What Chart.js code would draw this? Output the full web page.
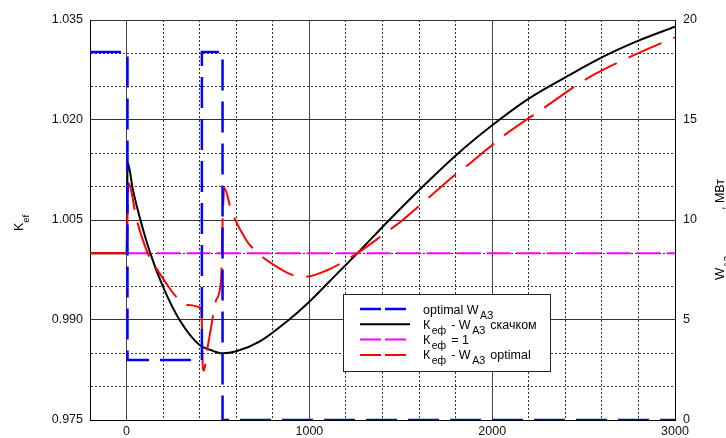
<!DOCTYPE html>
<html>
<head>
<meta charset="utf-8">
<script src="https://cdn.jsdelivr.net/npm/chart.js"></script>
<style>
  html, body { margin: 0; padding: 0; background: #fff; }
  canvas { display: block; }
</style>
</head>
<body>
<canvas id="grafico" width="726" height="438"></canvas>
<script>
// время, с
const xBlue  = [-200, 5, 5, 412, 412, 525, 525, 3000];
const wBlue  = [18.4, 18.4, 3.0, 3.0, 18.4, 18.4, 0, 0];

const xBlack = [-200, 0, 6, 35, 71, 130, 199, 290, 399, 460, 526, 600, 727, 882, 1000, 1164, 1255, 1437, 1601, 1810, 2000, 2200, 2400, 2600, 2800, 3000];
const kBlack = [1.000, 1.000, 1.0136, 1.0095, 1.0055, 1.000, 0.995, 0.990, 0.98625, 0.9855, 0.985, 0.9853, 0.98675, 0.9899, 0.99275, 0.9973, 0.9998, 1.005, 1.0095, 1.0149, 1.0192, 1.0232, 1.0264, 1.0294, 1.0319, 1.0340];

const xPink  = [0, 3000];
const kPink  = [1, 1];

const xRed   = [-200, 0, 10, 56, 116, 162, 217, 271, 326, 408, 411, 417, 422, 444, 463, 490, 517, 526, 535, 572, 654, 700, 836, 927, 982, 1100, 1255, 1401, 1511, 1638, 1811, 1883, 2056, 2293, 2521, 2757, 3000];
const kRed   = [1.000, 1.000, 1.0105, 1.005, 1.000, 0.9978, 0.9955, 0.9935, 0.99225, 0.9917, 0.9905, 0.983, 0.9824, 0.986, 0.989, 0.993, 0.996, 1.0055, 1.0098, 1.0065, 1.002, 1.0005, 0.99775, 0.9966, 0.9965, 0.9975, 0.9999, 1.00275, 1.005, 1.008, 1.0121, 1.0136, 1.0175, 1.022, 1.02625, 1.0295, 1.0324];

// подписи осей
const xTicks  = [-200, 0, 200, 400, 600, 800, 1000, 1200, 1400, 1600, 1800, 2000, 2200, 2400, 2600, 2800, 3000];
const kTicks  = [0.975, 0.980, 0.985, 0.990, 0.995, 1.000, 1.005, 1.010, 1.015, 1.020, 1.025, 1.030, 1.035];
const wTicks  = [0, 5, 10, 15, 20];

// легенда: [текст, 1 = нижний индекс]
const legendText = [
  [['optimal W', 0], ['АЗ', 1]],
  [['К', 0], ['еф', 1], [' - W', 0], ['АЗ', 1], [' скачком', 0]],
  [['К', 0], ['еф', 1], [' = 1', 0]],
  [['К', 0], ['еф', 1], [' - W', 0], ['АЗ', 1], [' optimal', 0]]
];
const leftTitle  = [['K', 0], ['ef', 1]];
const rightTitle = [['W', 0], ['АЗ', 1]];
const rightUnit  = ', МВт';

const FONT = '"Liberation Sans", Arial, sans-serif';

function puntos(xs, ys) {
  return xs.map((x, i) => ({x: x, y: ys[i]}));
}

function esMayor(v, base, paso) {
  const q = (v - base) / paso;
  return Math.abs(q - Math.round(q)) < 1e-6;
}

// texto con subíndices
function textoIndices(ctx, partes, x, y, tam, tamSub, baja, hueco) {
  let px = x;
  partes.forEach(([t, sub]) => {
    ctx.font = (sub ? tamSub : tam) + 'px ' + FONT;
    if (sub) px += hueco;
    ctx.fillText(t, px, sub ? y + baja : y);
    px += ctx.measureText(t).width + (sub ? hueco : 0);
  });
  return px - x;
}

const decor = {
  id: 'decor',
  afterDraw(chart) {
    const ctx = chart.ctx;
    const sets = chart.data.datasets;
    ctx.save();

    // рамка легенды
    const bx = 343.5, by = 294.5, bw = 207, bh = 77;
    ctx.fillStyle = '#fff';
    ctx.fillRect(bx, by, bw, bh);
    ctx.strokeStyle = '#222';
    ctx.lineWidth = 1;
    ctx.setLineDash([]);
    ctx.strokeRect(bx, by, bw, bh);

    ctx.textBaseline = 'alphabetic';
    sets.forEach((ds, i) => {
      const ry = 309 + i * 15.3;
      ctx.beginPath();
      ctx.strokeStyle = ds.borderColor;
      ctx.lineWidth = ds.borderWidth;
      ctx.setLineDash(ds.borderDash ? [21, 4] : []);
      ctx.moveTo(360, ry);
      ctx.lineTo(410, ry);
      ctx.stroke();
      ctx.setLineDash([]);
      ctx.fillStyle = '#000';
      textoIndices(ctx, legendText[i], 423, ry + 4.5, 12.5, 10.5, 5, 1.5);
    });

    // заголовки осей
    ctx.fillStyle = '#000';
    ctx.save();
    ctx.translate(23, 231);
    ctx.rotate(-Math.PI / 2);
    textoIndices(ctx, leftTitle, 0, 0, 12.5, 9.5, 6, 0);
    ctx.restore();

    ctx.save();
    ctx.translate(724, 280);
    ctx.rotate(-Math.PI / 2);
    textoIndices(ctx, rightTitle, 0, 0, 13, 9.5, 6, 0);
    ctx.font = '12.5px ' + FONT;
    ctx.fillText(rightUnit, 70, 0);
    ctx.restore();

    ctx.restore();
  }
};

const ctx = document.getElementById('grafico');

const mychart = new Chart(ctx, {
  type: 'line',
  data: {
    datasets: [
      {
        label: 'optimal W',
        data: puntos(xBlue, wBlue),
        yAxisID: 'y2',
        borderColor: '#0000ff',
        borderWidth: 2.5,
        borderDash: [31, 11],
        tension: 0,
        order: 0
      },
      {
        label: 'К - W скачком',
        data: puntos(xBlack, kBlack),
        yAxisID: 'y',
        borderColor: '#000000',
        borderWidth: 2,
        cubicInterpolationMode: 'monotone',
        order: 2
      },
      {
        label: 'К = 1',
        data: puntos(xPink, kPink),
        yAxisID: 'y',
        borderColor: '#ff00ff',
        borderWidth: 2,
        borderDash: [24, 6],
        tension: 0,
        order: 3
      },
      {
        label: 'К - W optimal',
        data: puntos(xRed, kRed),
        yAxisID: 'y',
        borderColor: '#ff0000',
        borderWidth: 2,
        borderDash: [36, 13],
        cubicInterpolationMode: 'monotone',
        order: 1
      }
    ]
  },
  options: {
    responsive: false,
    animation: false,
    devicePixelRatio: 1,
    layout: { padding: { top: 20, left: 0, right: 0, bottom: 0 } },
    elements: { point: { radius: 0 } },
    plugins: { legend: { display: false }, tooltip: { enabled: false } },
    scales: {
      x: {
        type: 'linear',
        min: -200,
        max: 3000,
        afterBuildTicks: s => { s.ticks = xTicks.map(v => ({value: v})); },
        afterFit: s => { s.height = 18; },
        ticks: {
          autoSkip: false,
          maxRotation: 0,
          padding: 4,
          color: '#111',
          font: { family: FONT, size: 12.5 },
          callback: v => (v % 1000 === 0 ? String(v) : '')
        },
        grid: {
          drawTicks: false,
          lineWidth: 1,
          color: c => (esMayor(c.tick ? c.tick.value : 0, 0, 1000) ? '#444' : '#333')
        },
        border: {
          color: '#000',
          width: 1,
          dash: c => (c.tick && !esMayor(c.tick.value, 0, 1000) ? [2, 2] : [])
        }
      },
      y: {
        position: 'left',
        min: 0.975,
        max: 1.035,
        afterBuildTicks: s => { s.ticks = kTicks.map(v => ({value: v})); },
        afterFit: s => { s.width = 90; },
        ticks: {
          padding: 7,
          color: '#111',
          font: { family: FONT, size: 12.5 },
          callback: v => (esMayor(v, 0.975, 0.015) ? v.toFixed(3) : '')
        },
        grid: {
          drawTicks: false,
          lineWidth: 1,
          color: '#333'
        },
        border: {
          color: '#000',
          width: 1,
          dash: c => (c.tick && !esMayor(c.tick.value, 0.975, 0.015) ? [2, 2] : [])
        }
      },
      y2: {
        position: 'right',
        min: 0,
        max: 20,
        afterBuildTicks: s => { s.ticks = wTicks.map(v => ({value: v})); },
        afterFit: s => { s.width = 51; },
        ticks: {
          padding: 8,
          color: '#111',
          font: { family: FONT, size: 12.5 }
        },
        grid: { drawOnChartArea: false, drawTicks: false },
        border: { color: '#000', width: 1 }
      }
    }
  },
  plugins: [decor]
});
</script>
</body>
</html>
